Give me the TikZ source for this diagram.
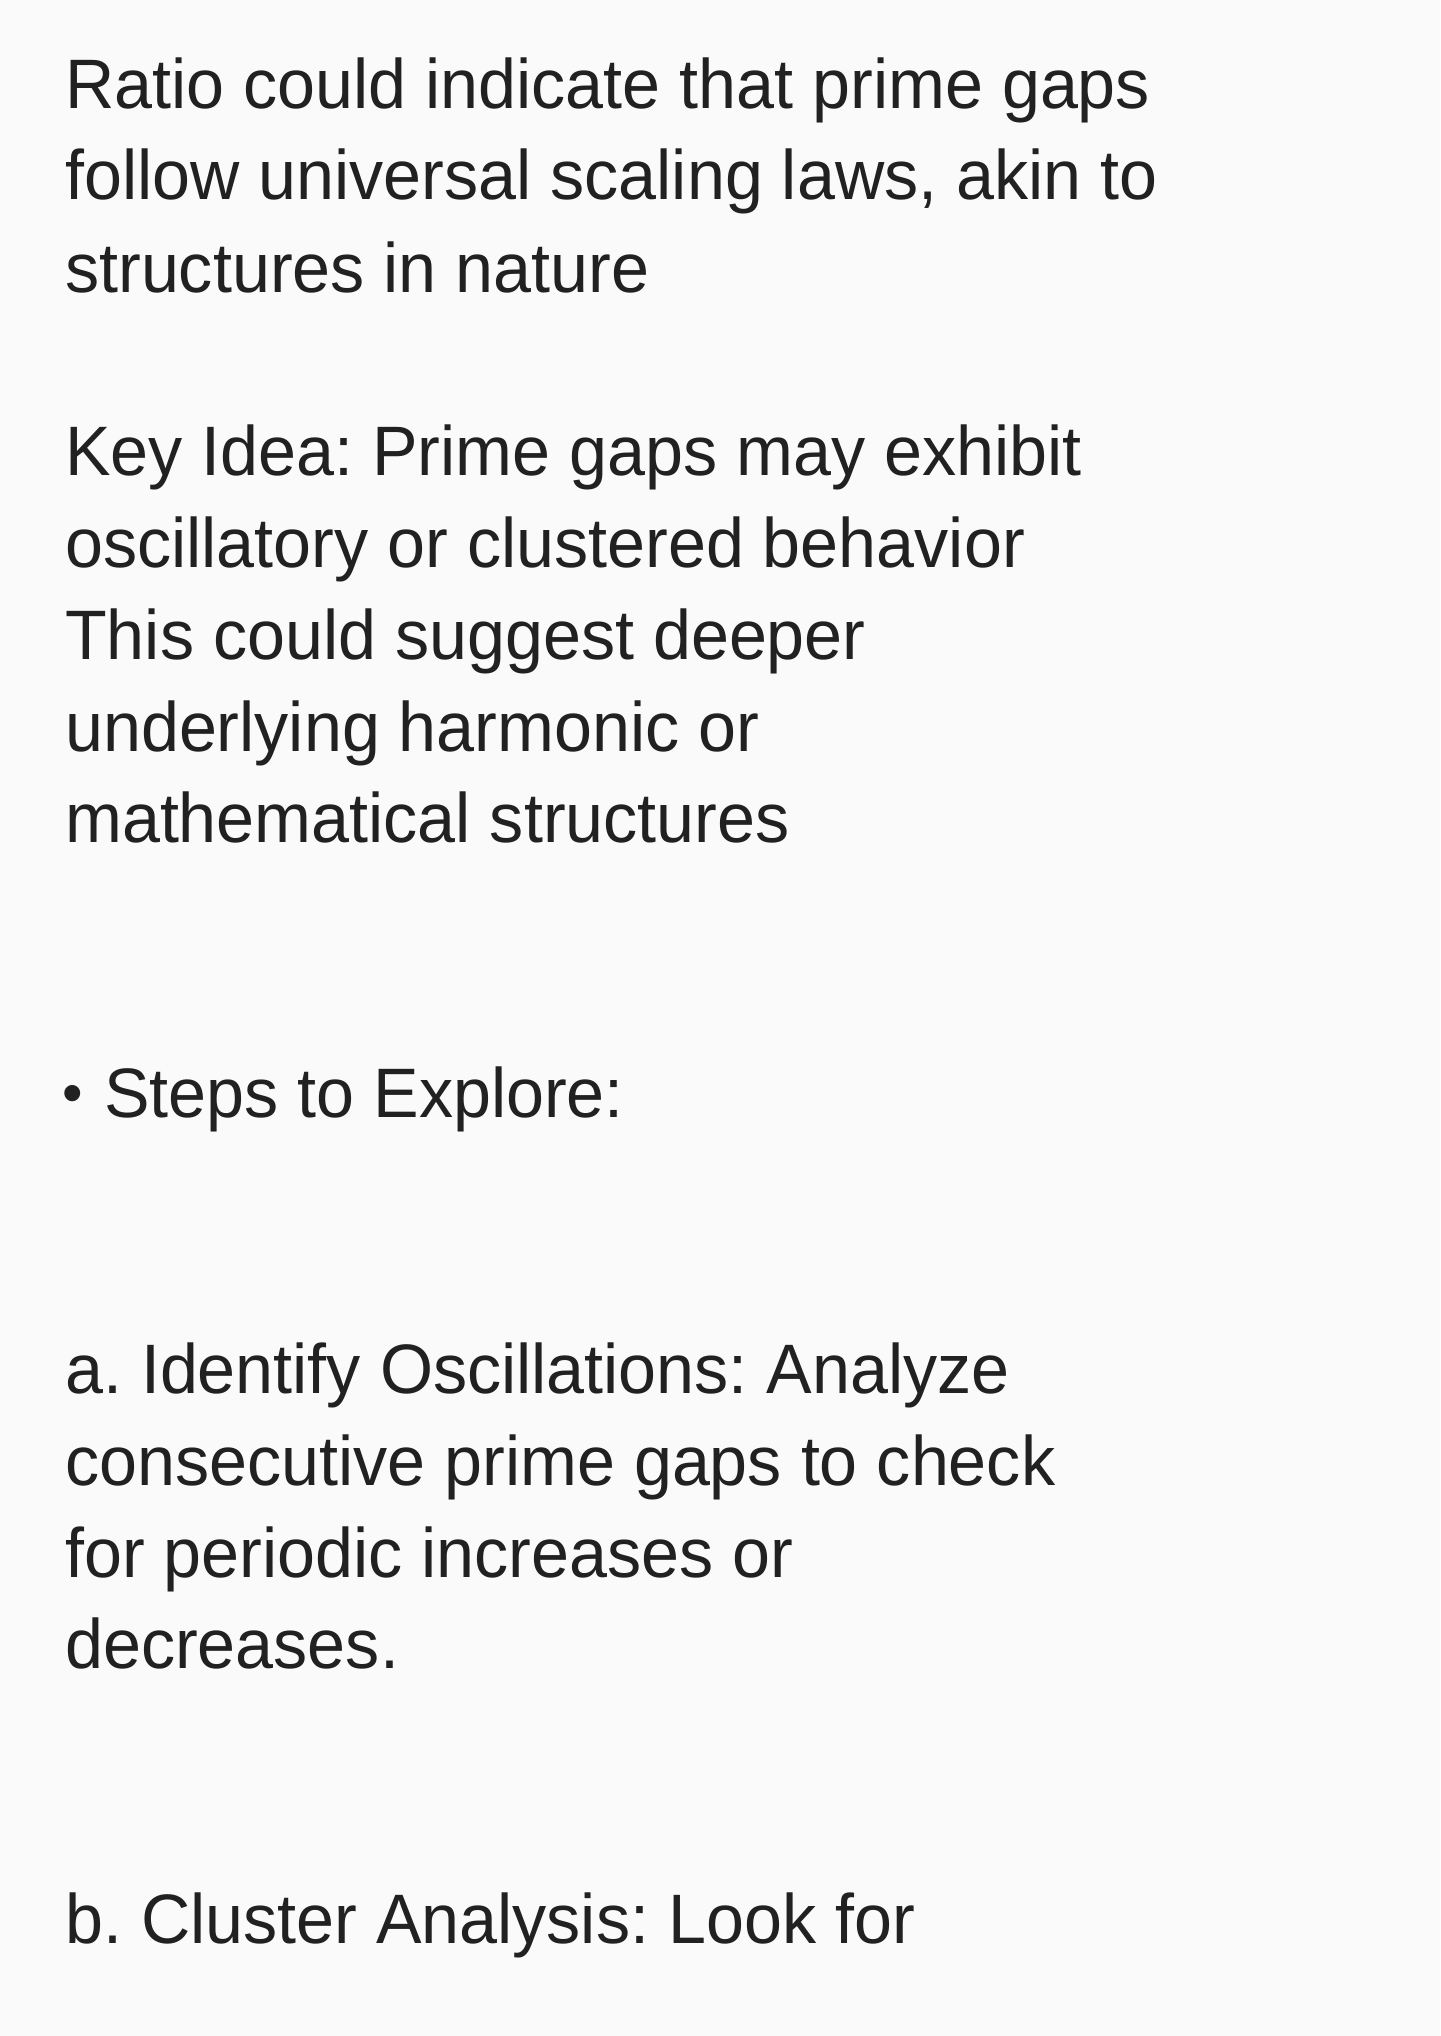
\documentclass[tikz,border=0pt]{standalone}
\usepackage{fontspec}
\setmainfont{Liberation Sans}[FakeStretch=0.975]
\definecolor{bg}{HTML}{FAFAFA}
\definecolor{ink}{HTML}{212121}
\begin{document}
\frenchspacing
\begin{tikzpicture}[x=1pt,y=1pt,
  txt/.style={anchor=base west,inner sep=0pt,text=ink,font=\fontsize{70}{92}\selectfont\frenchspacing},
  bul/.style={anchor=base west,inner sep=0pt,text=ink,font=\fontsize{60}{66}\selectfont}]
\fill[bg] (0,0) rectangle (1440,-2036);
\useasboundingbox (0,0) rectangle (1440,-2036);
\node[txt] (l1) at (65,-109) {Ratio could indicate that prime gaps};
\node[txt] (l2) at (65,-200) {follow universal scaling laws, akin to};
\node[txt] (l3) at (65,-292) {structures in nature};
\node[txt] (k1) at (65,-475) {Key Idea: Prime gaps may exhibit};
\node[txt] (k2) at (65,-567) {oscillatory or clustered behavior};
\node[txt] (k3) at (65,-659) {This could suggest deeper};
\node[txt] (k4) at (65,-751) {underlying harmonic or};
\node[txt] (k5) at (65,-842) {mathematical structures};
\node[bul] (s0) at (62,-1113) {\textbullet};
\node[txt] (s1) at (104,-1117) {Steps to Explore:};
\node[txt] (a1) at (65,-1393) {a. Identify Oscillations: Analyze};
\node[txt] (a2) at (65,-1485) {consecutive prime gaps to check};
\node[txt] (a3) at (65,-1577) {for periodic increases or};
\node[txt] (a4) at (65,-1668) {decreases.};
\node[txt] (b1) at (65,-1943) {b. Cluster Analysis: Look for};
\end{tikzpicture}
\end{document}
